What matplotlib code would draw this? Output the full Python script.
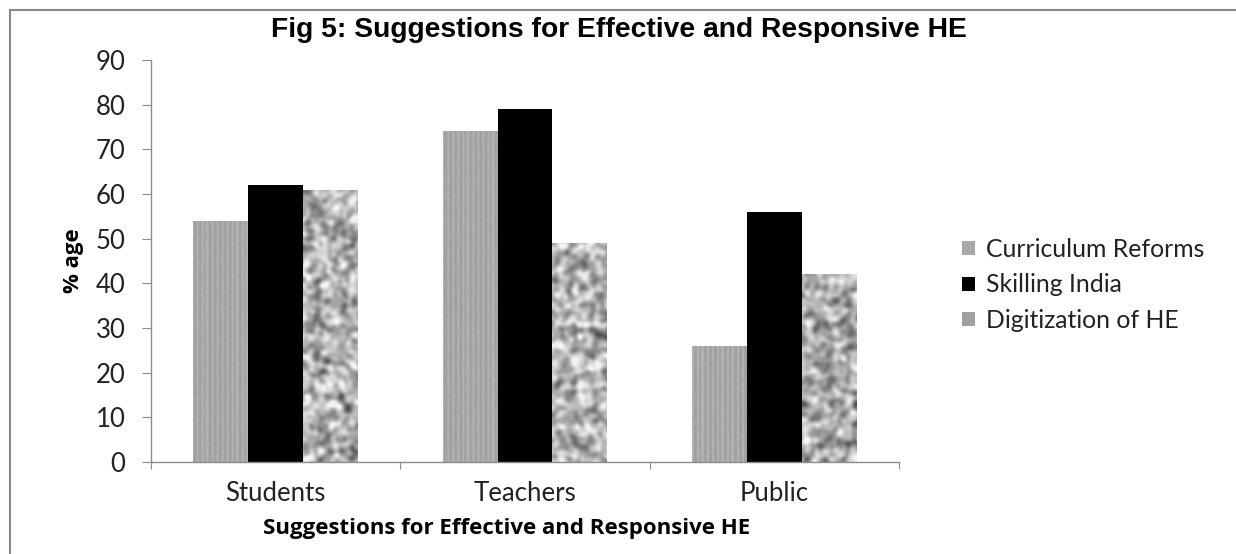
import numpy as np
import matplotlib
matplotlib.use('Agg')
import matplotlib.pyplot as plt
from matplotlib.patches import Patch, Rectangle

categories = ['Students', 'Teachers', 'Public']
series_names = ['Curriculum Reforms', 'Skilling India', 'Digitization of HE']
curriculum_reforms = [54, 74, 26]
skilling_india = [62, 79, 56]
digitization_he = [61, 49, 42]
y_ticks = [0, 10, 20, 30, 40, 50, 60, 70, 80, 90]

title = 'Fig 5: Suggestions for Effective and Responsive HE'
x_title = 'Suggestions for Effective and Responsive HE'
y_title = '% age'

body_font = ['Lato', 'DejaVu Sans']
bold_font = ['Open Sans', 'DejaVu Sans']
head_font = ['Liberation Sans', 'DejaVu Sans']


def blur(img, sigma):
    # gaussian blur through the FFT
    h, w = img.shape
    fy = np.fft.fftfreq(h)[:, None]
    fx = np.fft.fftfreq(w)[None, :]
    g = np.exp(-2 * (np.pi * sigma) ** 2 * (fx ** 2 + fy ** 2))
    return np.real(np.fft.ifft2(np.fft.fft2(img) * g))


def stripes(h, w):
    rng = np.random.default_rng(3)
    cols = 0.665 + 0.03 * np.sign(np.sin(np.arange(w) * np.pi / 2.5))
    tex = np.tile(cols, (h, 1)) + rng.normal(0, 0.012, (h, w))
    return np.clip(tex, 0, 1)


def granite(h, w):
    rng = np.random.default_rng(7)
    n = blur(rng.normal(0, 1, (h, w)), 2.5)
    n = (n - n.mean()) / n.std()
    return np.clip(0.70 + 0.12 * n, 0.3, 0.95)


fig = plt.figure(figsize=(12.36, 5.54), dpi=100)
ax = fig.add_axes([151 / 1236, 92 / 554, 748 / 1236, 402 / 554])

# outer chart border
fig.patches.append(Rectangle((10 / 1236, -0.05), 1.1, 1.05 - 10 / 554,
                             transform=fig.transFigure, fill=False,
                             edgecolor='#8a8a8a', linewidth=1.5))

x = np.arange(len(categories))
w = 0.22
b1 = ax.bar(x - w, curriculum_reforms, w, color='#a9a9a9', linewidth=0)
b2 = ax.bar(x, skilling_india, w, color='black', linewidth=0)
b3 = ax.bar(x + w, digitization_he, w, color='#a0a0a0', linewidth=0)

ax.set_xlim(-0.5, len(categories) - 0.5)
ax.set_ylim(0, 90)

# fill textured series with images clipped to each bar
ext = (-0.5, len(categories) - 0.5, 0, 90)
tex1 = stripes(402, 748)
tex3 = granite(402, 748)
for bars, tex in ((b1, tex1), (b3, tex3)):
    for bar in bars:
        im = ax.imshow(tex, cmap='gray', vmin=0, vmax=1, extent=ext,
                       aspect='auto', interpolation='bilinear', zorder=2)
        im.set_clip_path(bar)
ax.set_xlim(-0.5, len(categories) - 0.5)
ax.set_ylim(0, 90)

for s in ('top', 'right'):
    ax.spines[s].set_visible(False)
for s in ('left', 'bottom'):
    ax.spines[s].set_color('#8c8c8c')
    ax.spines[s].set_linewidth(1.0)

ax.set_yticks(y_ticks)
ax.tick_params(axis='y', direction='out', length=6.5, color='#8c8c8c',
               pad=12, labelsize=18.5, labelcolor='#222222')
ax.set_xticks(np.arange(len(categories) + 1) - 0.5)
ax.set_xticklabels([])
ax.set_xticks(x, minor=True)
ax.set_xticklabels(categories, minor=True)
ax.tick_params(axis='x', which='major', direction='out', length=5,
               color='#8c8c8c')
ax.tick_params(axis='x', which='minor', length=0, pad=14, labelsize=18.5,
               labelcolor='#222222')
for lab in ax.get_yticklabels() + ax.get_xticklabels(minor=True):
    lab.set_family(body_font)

ax.set_xlabel(x_title, family=bold_font, fontsize=16, fontweight='bold',
              labelpad=8)
ax.xaxis.label.set_x(0.476)
ax.set_ylabel(y_title, family=bold_font, fontsize=16, fontweight='bold',
              labelpad=8)

fig.text(619 / 1236, 1 - 30 / 554, title, family=head_font, fontsize=20.3,
         fontweight='bold', ha='center', va='center')

handles = [Patch(facecolor='#a9a9a9', edgecolor='none'),
           Patch(facecolor='black', edgecolor='none'),
           Patch(facecolor='#a0a0a0', edgecolor='none')]
leg = fig.legend(handles, series_names, loc='center left',
                 bbox_to_anchor=(940 / 1236, 1 - 285 / 554), frameon=False,
                 prop={'family': body_font, 'size': 17.8},
                 handlelength=0.5, handleheight=0.5, handletextpad=0.45,
                 labelspacing=0.5, labelcolor='#222222')

fig.savefig('out.png', dpi=100)
plt.close()
